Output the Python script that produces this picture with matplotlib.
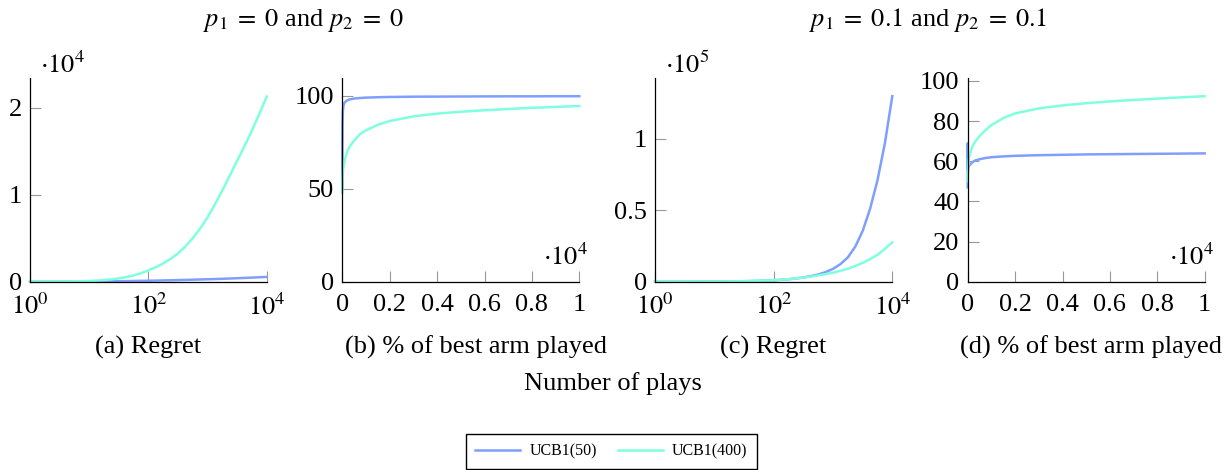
import matplotlib
matplotlib.use("Agg")
import matplotlib.pyplot as plt
from matplotlib.lines import Line2D
from matplotlib.ticker import NullLocator

plt.rcParams['font.family'] = ['Liberation Serif', 'DejaVu Serif']
plt.rcParams['mathtext.fontset'] = 'stix'

BLUE = '#7f9fff'
CYAN = '#80ffdf'

# ---- data ----
# Regret, log-scale x (plays)
regret_x = [1, 1.33, 1.78, 2.37, 3.16, 4.22, 5.62, 7.50, 10, 13.3, 17.8, 23.7,
            31.6, 42.2, 56.2, 75.0, 100, 133, 178, 237, 316, 422, 562, 750,
            1000, 1334, 1778, 2371, 3162, 4217, 5623, 7499, 10000]
regret_a_ucb50 = [0, 1, 2, 3, 5, 7, 10, 14, 20, 27, 35, 45, 55, 67, 80, 95,
                  110, 127, 145, 165, 185, 207, 230, 255, 280, 307, 335, 367,
                  400, 435, 470, 510, 550]
regret_a_ucb400 = [0, 2, 5, 9, 15, 24, 35, 55, 80, 125, 180, 270, 380, 530,
                   720, 980, 1300, 1670, 2100, 2630, 3250, 4050, 5000, 6100,
                   7400, 8900, 10500, 12200, 13900, 15600, 17400, 19300, 21300]
regret_c_ucb50 = [0, 5, 10, 20, 30, 45, 60, 90, 120, 160, 200, 270, 350, 460,
                  600, 780, 1000, 1300, 1700, 2250, 3000, 3900, 5000, 6700,
                  9000, 12300, 17000, 24500, 35500, 51000, 71000, 97000, 130000]
regret_c_ucb400 = [0, 5, 10, 20, 30, 45, 60, 90, 120, 160, 210, 280, 360, 480,
                   630, 830, 1100, 1400, 1800, 2300, 2900, 3600, 4400, 5300,
                   6300, 7600, 9100, 11000, 13200, 15800, 18800, 23000, 27600]

# % of best arm played, linear x (plays)
pct_x = [1, 3, 10, 25, 50, 100, 200, 300, 500, 750, 1000, 1500, 2000, 3000,
         4000, 5000, 6000, 7000, 8000, 9000, 10000]
pct_b_ucb50 = [50, 75, 86, 92, 95, 96.5, 97.6, 98.1, 98.6, 98.9, 99.1, 99.3,
               99.45, 99.6, 99.65, 99.7, 99.75, 99.8, 99.8, 99.85, 99.85]
pct_b_ucb400 = [48, 52, 55, 59, 62, 65.5, 70, 72.5, 76, 79.5, 81.5, 84.5,
                86.5, 89, 90.5, 91.5, 92.3, 93, 93.6, 94.1, 94.6]
pct_d_ucb50 = [47, 69, 56, 57, 57.5, 58.3, 59.5, 60.3, 61, 61.6, 62, 62.4,
               62.7, 63, 63.2, 63.4, 63.5, 63.6, 63.7, 63.8, 63.9]
pct_d_ucb400 = [50, 53, 55, 58, 61, 64, 67.5, 69.5, 72.5, 75.5, 78, 81.5,
                83.8, 86.3, 87.8, 88.9, 89.8, 90.5, 91.2, 91.8, 92.4]

regret_xticks = [1, 100, 10000]
regret_xticklabels = [r'$10^0$', r'$10^2$', r'$10^4$']
pct_xticks = [0, 2000, 4000, 6000, 8000, 10000]
pct_xticklabels = ['0', '0.2', '0.4', '0.6', '0.8', '1']

yticks_a = [0, 10000, 20000]
yticklabels_a = ['0', '1', '2']
yticks_b = [0, 50, 100]
yticks_c = [0, 50000, 100000]
yticklabels_c = ['0', '0.5', '1']
yticks_d = [0, 20, 40, 60, 80, 100]

titles = [r'$p_1\;=\;0$ and $p_2\;=\;0$', r'$p_1\;=\;0.1$ and $p_2\;=\;0.1$']
captions = ['(a) Regret', '(b) % of best arm played', '(c) Regret',
            '(d) % of best arm played']
xlabel_common = 'Number of plays'
series_names = ['UCB1(50)', 'UCB1(400)']

# ---- figure ----
W, H = 1226, 470
fig = plt.figure(figsize=(W / 100, H / 100), dpi=100)

FS = 19
LW = 1.8


def px_axes(left, right, top, bottom):
    return fig.add_axes([left / W, 1 - bottom / H, (right - left) / W,
                         (bottom - top) / H])


def style(ax):
    for s in ['top', 'right']:
        ax.spines[s].set_visible(False)
    for s in ['left', 'bottom']:
        ax.spines[s].set_linewidth(0.9)
        ax.spines[s].set_color('black')
    ax.tick_params(direction='in', length=8, width=0.8, color='0.6',
                   labelsize=FS)
    ax.tick_params(axis='x', pad=8.5)
    ax.tick_params(axis='y', pad=6)
    ax.xaxis.set_minor_locator(NullLocator())


top, bottom = 78.3, 281.7
axa = px_axes(30, 266.7, top, bottom)
axb = px_axes(342.3, 579.3, top, bottom)
axc = px_axes(655, 892.3, top, bottom)
axd = px_axes(967.7, 1204.7, top, bottom)

# (a)
axa.plot(regret_x, regret_a_ucb50, color=BLUE, lw=LW)
axa.plot(regret_x, regret_a_ucb400, color=CYAN, lw=LW)
axa.set_xscale('log')
axa.set_xlim(1, 10000)
axa.set_ylim(0, 23400)
axa.set_xticks(regret_xticks)
axa.set_xticklabels(regret_xticklabels)
axa.set_yticks(yticks_a)
axa.set_yticklabels(yticklabels_a)

# (b)
axb.plot(pct_x, pct_b_ucb50, color=BLUE, lw=LW)
axb.plot(pct_x, pct_b_ucb400, color=CYAN, lw=LW)
axb.set_xlim(0, 10000)
axb.set_ylim(0, 109.5)
axb.set_xticks(pct_xticks)
axb.set_xticklabels(pct_xticklabels)
axb.set_yticks(yticks_b)

# (c)
axc.plot(regret_x, regret_c_ucb50, color=BLUE, lw=LW)
axc.plot(regret_x, regret_c_ucb400, color=CYAN, lw=LW)
axc.set_xscale('log')
axc.set_xlim(1, 10000)
axc.set_ylim(0, 142500)
axc.set_xticks(regret_xticks)
axc.set_xticklabels(regret_xticklabels)
axc.set_yticks(yticks_c)
axc.set_yticklabels(yticklabels_c)

# (d)
axd.plot(pct_x, pct_d_ucb50, color=BLUE, lw=LW)
axd.plot(pct_x, pct_d_ucb400, color=CYAN, lw=LW)
axd.set_xlim(0, 10000)
axd.set_ylim(0, 101.3)
axd.set_xticks(pct_xticks)
axd.set_xticklabels(pct_xticklabels)
axd.set_yticks(yticks_d)

for ax in (axa, axb, axc, axd):
    style(ax)
    for ln in ax.get_lines():
        ln.set_clip_on(False)

# multiplier labels
fig.text(40 / W, 1 - 65 / H, r'$\cdot 10^4$', fontsize=FS, ha='left', va='center')
fig.text(665 / W, 1 - 65 / H, r'$\cdot 10^5$', fontsize=FS, ha='left', va='center')
fig.text(588 / W, 1 - 257 / H, r'$\cdot 10^4$', fontsize=FS, ha='right', va='center')
fig.text(1214 / W, 1 - 257 / H, r'$\cdot 10^4$', fontsize=FS, ha='right', va='center')

# titles
fig.text(303 / W, 1 - 20 / H, titles[0], fontsize=FS, ha='center', va='center')
fig.text(928 / W, 1 - 20 / H, titles[1], fontsize=FS, ha='center', va='center')

# captions
cap_x = [148, 476, 773, 1091]
for cx, cap in zip(cap_x, captions):
    fig.text(cx / W, 1 - 347 / H, cap, fontsize=FS, ha='center', va='center')

fig.text(613 / W, 1 - 384 / H, xlabel_common, fontsize=FS, ha='center',
         va='center')

handles = [Line2D([], [], color=BLUE, lw=LW), Line2D([], [], color=CYAN, lw=LW)]
fig.legend(handles, series_names, loc='upper center',
           bbox_to_anchor=(611.5 / W, 1 - 434 / H), ncol=2, frameon=True,
           fancybox=False, edgecolor='black', framealpha=1, fontsize=11.5,
           handlelength=2.8, columnspacing=1.3, borderpad=0.6,
           handletextpad=0.6, borderaxespad=0)

fig.savefig('out.png', dpi=100)
